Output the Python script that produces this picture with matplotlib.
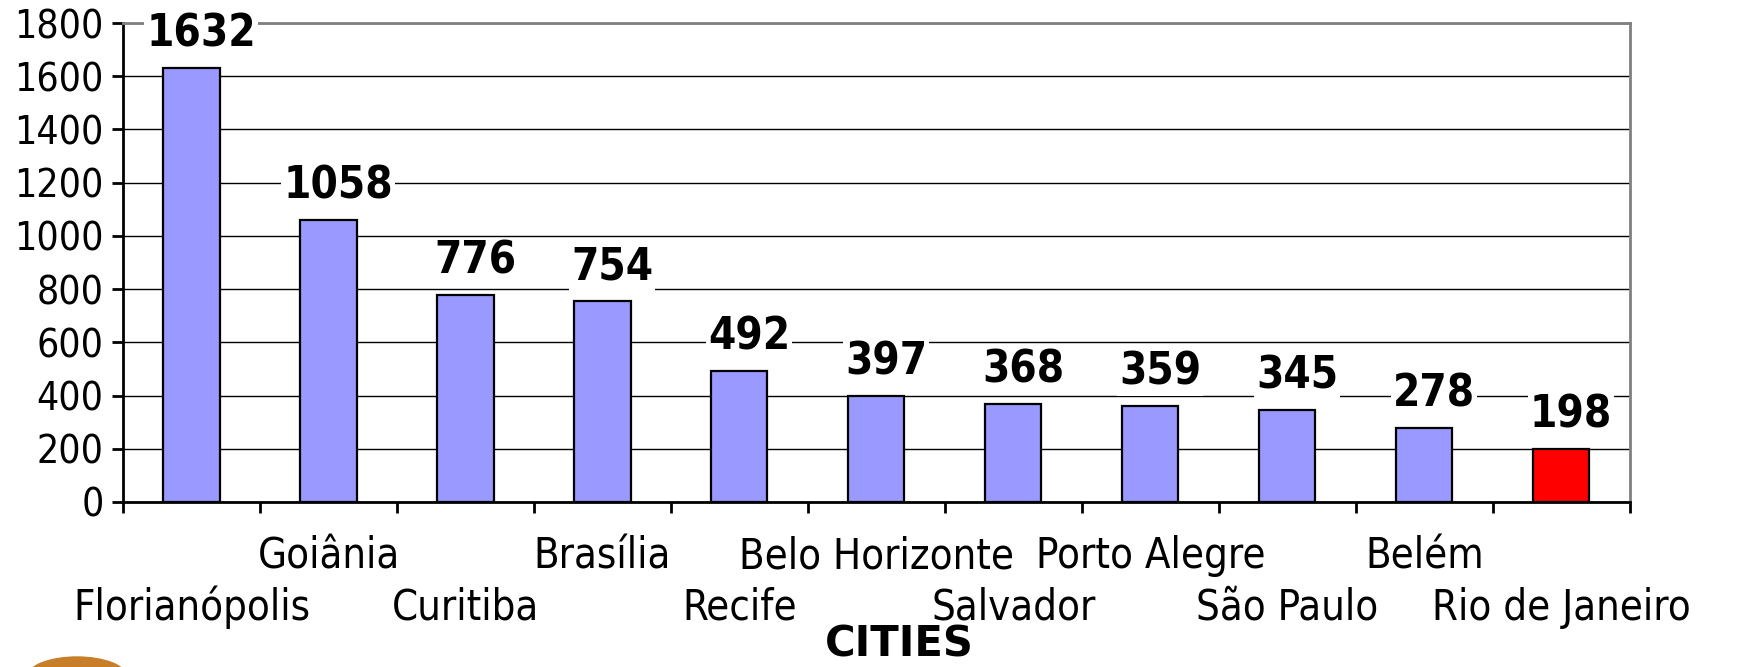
import numpy as np
import matplotlib as mpl
mpl.use('Agg')
from matplotlib import pyplot as plt
from matplotlib.patches import Ellipse

cities = ['Florianópolis', 'Goiânia', 'Curitiba', 'Brasília', 'Recife',
          'Belo Horizonte', 'Salvador', 'Porto Alegre', 'São Paulo', 'Belém',
          'Rio de Janeiro']
values = [1632, 1058, 776, 754, 492, 397, 368, 359, 345, 278, 198]
highlight = 'Rio de Janeiro'

mpl.rcParams['font.family'] = 'DejaVu Sans'
mpl.rcParams['font.stretch'] = 'condensed'
fs = 28

fig = plt.figure(figsize=(17.58, 6.67), dpi=100)
ax = fig.add_axes([0.070, 0.2474, 0.857, 0.7181])

pos = np.arange(len(cities))
colors = ['#FF0000' if c == highlight else '#9999FF' for c in cities]
ax.bar(pos, values, width=0.41, color=colors, edgecolor='black', linewidth=1.6, zorder=3)

for p, v in zip(pos, values):
    ax.annotate(str(v), (p, v), xytext=(7, 9), textcoords='offset points',
                ha='center', va='bottom', fontsize=31.5, fontweight='bold',
                bbox=dict(boxstyle='square,pad=0.05', fc='white', ec='none'), zorder=4)

ax.set_ylim(0, 1800)
ax.set_xlim(-0.5, len(cities) - 0.5)
ax.set_yticks(np.arange(0, 1801, 200))
ax.yaxis.grid(True, color='black', linewidth=1.0, zorder=0)
ax.set_axisbelow(True)

# ticks at category boundaries, names in two staggered rows
ax.set_xticks(np.arange(-0.5, len(cities), 1.0))
ax.set_xticklabels([])
ax.tick_params(axis='x', direction='out', length=8, width=2)
ax.tick_params(axis='y', direction='out', length=8, width=2, labelsize=fs, pad=6)
for i, (p, c) in enumerate(zip(pos, cities)):
    dy = -39 if i % 2 else -76
    ax.annotate(c, (p, 0), xycoords=('data', 'axes fraction'), xytext=(0, dy),
                textcoords='offset points', ha='center', va='center',
                fontsize=30, annotation_clip=False)

for s in ['left', 'bottom']:
    ax.spines[s].set_linewidth(2)
    ax.spines[s].set_color('black')
for s in ['top', 'right']:
    ax.spines[s].set_linewidth(2)
    ax.spines[s].set_color('#808080')

ax.annotate('CITIES', (0.515, 0), xycoords='axes fraction', xytext=(0, -111),
            textcoords='offset points', ha='center', va='baseline',
            fontsize=30, fontweight='bold', fontstretch='normal',
            annotation_clip=False)

# partial logo at the bottom-left corner
fig.add_artist(Ellipse((77 / 1758, -10 / 667), 100 / 1758, 40 / 667,
                       transform=fig.transFigure, color='#C87D28', clip_on=False))

fig.savefig('out.png', dpi=100)
